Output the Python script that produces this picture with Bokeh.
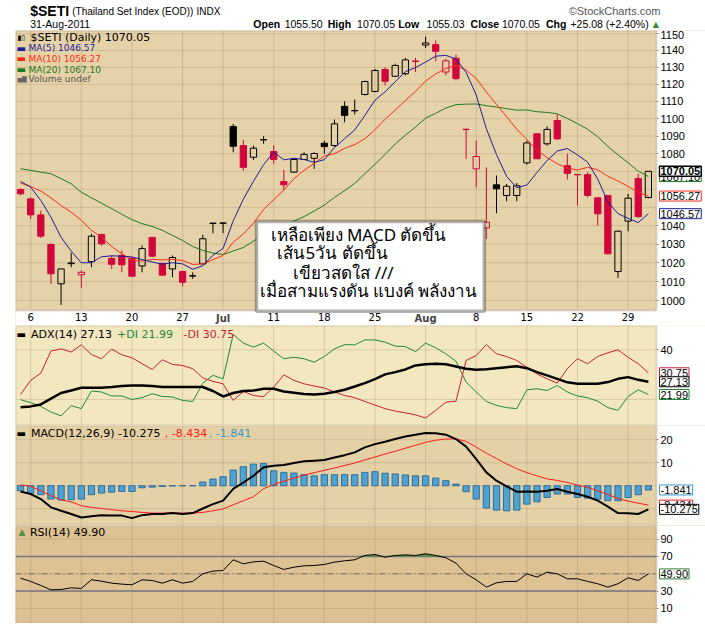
import numpy as np
from bokeh.plotting import figure
from bokeh.layouts import column
from bokeh.models import (Range1d, FixedTicker, Label, BoxAnnotation,
                          NumeralTickFormatter, ColumnDataSource)
from bokeh.embed import file_html
from bokeh.resources import INLINE

# ---------------- data ----------------
day_ticks = [2, 7, 12, 17, 21, 26, 31, 36, 41, 46, 51, 56, 61]
day_labels = ["6", "13", "20", "27", "Jul", "11", "18", "25", "Aug", "8", "15", "22", "29"]

prev_close = 1062.0
opens = [1059.9, 1054.7, 1045.9, 1029.8, 1008.8, 1019.5, 1013.6, 1020.6, 1035.2, 1022.3,
         1023.9, 1022.4, 1018.3, 1033.6, 1019.7, 1016.7, 1015.3, 1012.9, 1019.4, 1041.2,
         1041.3, 1095.5, 1084.6, 1078.0, 1087.8, 1081.2, 1064.3, 1069.6, 1076.7, 1077.4,
         1085.9, 1084.6, 1107.1, 1104.5, 1114.0, 1115.8, 1128.7, 1124.7, 1126.2, 1133.7,
         1143.3, 1143.5, 1127.2, 1135.4, 1093.9, 1071.4, 1038.8, 1062.5, 1056.6, 1056.6,
         1074.8, 1091.3, 1085.6, 1098.9, 1073.2, 1068.3, 1068.2, 1055.3, 1056.6, 1015.3,
         1042.5, 1066.0, 1055.50]
highs = [1060.5, 1055.6, 1048.3, 1030.5, 1016.9, 1025.3, 1015.8, 1035.6, 1035.6, 1023.9,
         1026.6, 1023.0, 1029.2, 1034.0, 1020.0, 1023.9, 1015.8, 1014.9, 1035.0, 1041.6,
         1041.7, 1097.0, 1087.8, 1084.6, 1089.9, 1084.6, 1070.9, 1077.0, 1080.8, 1080.8,
         1087.4, 1099.5, 1110.0, 1111.1, 1122.2, 1129.1, 1130.1, 1132.2, 1135.6, 1135.6,
         1148.3, 1146.0, 1135.0, 1137.6, 1094.3, 1087.4, 1072.3, 1067.7, 1063.0, 1063.5,
         1087.4, 1091.5, 1095.5, 1102.5, 1079.9, 1068.6, 1069.5, 1055.6, 1056.8, 1037.3,
         1057.5, 1068.6, 1070.05]
lows = [1056.8, 1043.7, 1033.4, 1008.8, 997.7, 1017.6, 1006.7, 1017.6, 1029.2, 1016.7,
        1014.9, 1012.5, 1014.9, 1023.0, 1013.0, 1012.3, 1007.5, 1011.4, 1019.2, 1035.9,
        1036.0, 1080.8, 1070.5, 1076.5, 1085.6, 1074.4, 1059.7, 1069.3, 1076.5, 1071.4,
        1079.9, 1084.0, 1097.9, 1102.5, 1113.4, 1115.2, 1119.3, 1124.3, 1125.2, 1127.2,
        1141.5, 1133.6, 1125.2, 1122.2, 1077.1, 1061.2, 1032.8, 1046.8, 1053.4, 1053.4,
        1073.8, 1077.0, 1084.6, 1087.8, 1065.5, 1051.0, 1055.6, 1040.1, 1024.5, 1011.9,
        1037.0, 1044.4, 1055.03]
closes = [1057.5, 1045.9, 1034.3, 1014.1, 1016.7, 1019.9, 1014.9, 1034.3, 1030.2, 1019.2,
          1018.9, 1012.8, 1027.6, 1023.5, 1013.4, 1022.8, 1009.6, 1013.1, 1032.9, 1041.4,
          1041.5, 1084.2, 1072.3, 1083.1, 1088.0, 1076.7, 1062.5, 1076.7, 1079.6, 1080.1,
          1084.0, 1097.0, 1101.9, 1104.7, 1121.6, 1128.1, 1121.8, 1131.1, 1134.4, 1133.5,
          1144.5, 1139.5, 1133.8, 1123.3, 1093.7, 1078.4, 1041.9, 1060.3, 1061.7, 1062.0,
          1086.1, 1077.1, 1093.8, 1088.4, 1068.9, 1068.1, 1056.6, 1046.5, 1024.8, 1037.0,
          1055.1, 1044.97, 1070.05]

ma5 = [1064.4, 1061.2, 1053.8, 1044.7, 1033.7, 1026.2, 1020.0, 1020.0, 1023.2, 1023.7,
       1023.5, 1023.1, 1021.7, 1020.4, 1019.2, 1020.0, 1019.4, 1016.5, 1018.4, 1024.0,
       1027.7, 1042.6, 1054.5, 1064.5, 1073.8, 1080.9, 1076.5, 1077.4, 1076.7, 1075.1,
       1076.6, 1083.5, 1088.5, 1093.5, 1101.8, 1110.7, 1115.6, 1121.5, 1127.4, 1129.8,
       1133.1, 1136.6, 1137.1, 1134.9, 1127.0, 1113.7, 1094.2, 1079.5, 1067.2, 1060.9,
       1062.4, 1069.4, 1076.1, 1081.5, 1082.9, 1079.3, 1075.2, 1065.7, 1053.0, 1046.6,
       1044.0, 1041.7, 1046.57]
ma10 = [1063.5, 1061.6, 1059.0, 1055.3, 1051.1, 1047.4, 1042.9, 1037.5, 1033.8, 1028.7,
        1024.8, 1021.5, 1020.9, 1021.8, 1021.5, 1021.8, 1021.2, 1019.1, 1019.4, 1021.6,
        1023.9, 1031.0, 1035.5, 1041.4, 1048.9, 1054.3, 1059.6, 1065.9, 1070.6, 1074.5,
        1078.7, 1080.0, 1083.0, 1085.1, 1088.5, 1093.6, 1099.6, 1105.0, 1110.5, 1115.8,
        1121.9, 1126.1, 1129.3, 1131.2, 1128.4, 1123.4, 1115.4, 1108.3, 1101.1, 1093.9,
        1088.1, 1081.8, 1077.8, 1074.3, 1071.9, 1070.8, 1072.3, 1070.9, 1067.2, 1064.7,
        1061.6, 1058.4, 1056.27]
ma20 = [1071.5, 1070.6, 1069.6, 1068.7, 1065.9, 1063.1, 1058.4, 1055.3, 1052.3, 1049.3,
        1046.2, 1043.3, 1041.1, 1039.6, 1037.5, 1034.7, 1032.0, 1028.7, 1026.6, 1025.2,
        1024.4, 1026.3, 1028.2, 1031.6, 1035.2, 1038.0, 1040.4, 1042.5, 1045.0, 1048.0,
        1051.3, 1055.5, 1059.2, 1063.3, 1068.7, 1074.0, 1079.6, 1085.5, 1090.5, 1095.1,
        1100.3, 1103.1, 1106.1, 1108.1, 1108.4, 1108.5, 1107.5, 1106.7, 1105.8, 1104.9,
        1105.0, 1104.0, 1103.6, 1102.8, 1100.1, 1097.1, 1093.9, 1089.6, 1084.1, 1079.3,
        1074.9, 1070.1, 1067.10]

adx = [16.9, 17.2, 18.0, 20.3, 22.6, 23.6, 24.7, 24.7, 24.7, 25.0,
       25.4, 25.6, 25.6, 25.4, 25.0, 25.0, 25.0, 25.0, 25.0, 23.4,
       21.2, 22.6, 23.4, 23.6, 24.3, 24.3, 23.2, 22.7, 22.2, 22.0,
       22.3, 23.0, 23.9, 25.2, 26.6, 28.2, 30.1, 31.0, 32.1, 33.7,
       34.2, 34.4, 34.2, 33.3, 32.4, 32.0, 32.2, 32.6, 33.0, 33.4,
       32.6, 31.0, 29.7, 28.3, 26.9, 26.3, 26.3, 26.3, 27.0, 28.3,
       29.0, 27.9, 27.13]
plus_di = [19.9, 18.7, 17.2, 14.9, 13.4, 17.5, 16.3, 23.4, 23.0, 21.4,
           21.4, 20.0, 20.7, 22.3, 21.2, 21.0, 19.6, 19.2, 26.6, 29.7,
           28.3, 46.2, 42.7, 41.1, 42.7, 39.5, 36.4, 37.0, 36.4, 35.0,
           37.3, 40.4, 42.1, 42.0, 44.0, 44.0, 43.1, 41.5, 41.3, 39.3,
           42.7, 40.8, 38.4, 35.4, 27.0, 23.0, 19.2, 17.6, 16.7, 16.3,
           23.9, 24.3, 23.6, 25.6, 23.0, 21.4, 20.7, 19.3, 16.7, 15.6,
           21.2, 23.9, 21.99]
minus_di = [22.0, 27.7, 30.6, 39.5, 40.4, 39.1, 42.0, 38.1, 36.4, 40.3,
            38.0, 36.8, 34.4, 32.1, 36.0, 34.1, 33.7, 32.4, 28.7, 27.3,
            26.3, 19.6, 23.2, 21.6, 21.1, 25.0, 29.9, 27.7, 26.3, 25.4,
            24.6, 23.0, 21.6, 20.7, 19.2, 17.7, 16.3, 15.3, 14.6, 13.8,
            12.5, 15.6, 18.9, 19.3, 35.7, 37.7, 42.1, 38.4, 37.3, 35.7,
            33.0, 30.3, 28.3, 26.6, 32.4, 36.4, 34.4, 37.3, 38.8, 40.0,
            37.0, 34.4, 30.75]

macd = [-2.5, -3.6, -5.8, -9.4, -10.9, -12.3, -13.8, -13.3, -12.8, -13.0,
        -13.0, -14.1, -12.8, -12.3, -12.3, -11.9, -12.3, -11.9, -9.9, -8.0,
        -6.5, -1.4, 1.4, 4.3, 8.0, 8.7, 9.0, 9.9, 10.6, 10.9,
        11.2, 12.3, 13.3, 14.5, 16.7, 18.1, 19.1, 20.3, 21.4, 22.2,
        22.9, 22.8, 22.2, 20.3, 17.0, 11.6, 5.8, 2.2, -0.3, -2.6,
        -2.5, -2.6, -2.2, -1.4, -2.6, -3.6, -4.8, -6.5, -9.1, -11.9,
        -12.0, -12.3, -10.275]
signal = [0.4, -0.3, -2.2, -4.3, -6.2, -7.0, -8.7, -9.4, -9.9, -10.4,
          -10.9, -11.2, -11.6, -11.9, -11.9, -11.9, -11.9, -11.9, -11.6, -10.9,
          -10.1, -8.3, -6.5, -4.8, -1.3, 0.5, 2.0, 3.3, 4.6, 5.7,
          6.7, 7.7, 8.8, 9.9, 11.2, 12.5, 13.8, 15.0, 16.3, 17.6,
          18.9, 19.8, 20.3, 20.4, 19.3, 16.8, 14.2, 11.8, 9.5, 7.4,
          5.7, 4.3, 3.0, 2.3, 1.4, 0.3, -0.7, -2.2, -3.8, -5.6,
          -6.7, -7.6, -8.434]
hist = [-2.2, -3.2, -3.9, -5.8, -6.2, -6.1, -5.8, -3.9, -3.2, -2.8,
        -2.5, -2.5, -0.9, -0.6, -0.3, -0.1, 0.0, 0.0, 1.6, 2.9,
        3.9, 6.8, 8.3, 9.4, 9.7, 6.5, 5.8, 5.5, 4.8, 4.3,
        4.8, 4.8, 4.8, 4.8, 5.8, 6.1, 5.4, 5.1, 4.7, 4.3,
        4.3, 3.3, 2.2, 0.7, -2.6, -5.8, -9.7, -10.6, -10.9, -10.6,
        -8.0, -7.0, -5.1, -3.6, -3.6, -5.1, -5.4, -5.8, -6.5, -6.5,
        -5.1, -3.9, -1.841]

rsi = [45.0, 41.2, 36.5, 31.5, 31.9, 33.8, 33.1, 43.1, 41.5, 39.2,
       38.1, 37.3, 43.1, 42.3, 39.2, 43.1, 39.2, 41.2, 50.0, 53.1,
       53.8, 66.2, 61.5, 63.8, 64.6, 59.6, 55.0, 57.7, 59.2, 59.6,
       60.8, 63.5, 65.0, 66.2, 71.2, 72.3, 69.2, 71.2, 71.9, 71.2,
       73.1, 71.2, 68.5, 62.3, 50.0, 43.1, 34.6, 39.6, 41.2, 41.2,
       50.0, 46.2, 51.9, 50.0, 44.2, 44.2, 41.2, 38.5, 34.6, 38.5,
       45.4, 42.3, 49.90]

price_ticks = list(range(1000, 1151, 10))
price_labels = [t for t in price_ticks if t not in (1050, 1060, 1070)]
adx_ticks = [20, 40]
adx_labels = [40]
macd_ticks = [-10, 0, 10, 20]
macd_labels = [10, 20]
rsi_ticks = [10, 30, 50, 70, 90]
rsi_labels = [10, 30, 70, 90]
rsi_levels = [30, 70]
rsi_mid = [50]

# ---------------- styling constants ----------------
UI = "DejaVu Sans"
AX = "Liberation Sans"
W = 705
FRAME_L = 15            # page x of the chart's left edge
PX_PER_DAY = 10.126
CHART_END = 63.8        # x (day index) of the chart's right edge
RED = "#d0063c"
MA5_C, MA10_C, MA20_C = "#1d1d9b", "#ff2a1a", "#1e7a1e"
DI_P, DI_M = "#1f8a3a", "#c81e3c"
HIST_F, HIST_L = "#4fa2d0", "#2b6fa3"
BORDER = "#9d8b76"
GRID = "#7d6545"
HAS_PAD = "padding" in Label.properties()

xr = Range1d(0.5, 0.5 + (W - FRAME_L) / PX_PER_DAY)
idx = np.arange(1, len(closes) + 1)


def panel(height, yr, bg, ticks, label_ticks, chart_bottom, y_type="linear"):
    p = figure(width=W, height=height, x_range=xr, y_range=yr, y_axis_type=y_type,
               y_axis_location="right", x_axis_location="below",
               toolbar_location=None, output_backend="svg",
               min_border_left=FRAME_L, min_border_right=0, min_border_top=0,
               min_border_bottom=0,
               background_fill_color=bg, border_fill_color="white",
               outline_line_color=None)
    p.grid.visible = False
    # grid lines limited to the chart area
    p.segment(x0=day_ticks, y0=[chart_bottom] * len(day_ticks), x1=day_ticks,
              y1=[yr.end] * len(day_ticks), line_color=GRID, line_alpha=0.22, line_width=1)
    p.segment(x0=[xr.start] * len(ticks), y0=ticks, x1=[CHART_END] * len(ticks), y1=ticks,
              line_color=GRID, line_alpha=0.2, line_width=1)
    # white margins outside the chart area (axis side and, for the price panel, below)
    p.add_layout(BoxAnnotation(left=CHART_END, right=xr.end, bottom=yr.start, top=yr.end,
                               fill_color="white", fill_alpha=1.0, line_color=None))
    if chart_bottom > yr.start:
        p.add_layout(BoxAnnotation(left=xr.start, right=xr.end, bottom=yr.start,
                                   top=chart_bottom, fill_color="white", fill_alpha=1.0,
                                   line_color=None))
    ya = p.yaxis[0]
    ya.level = "overlay"
    ya.fixed_location = CHART_END
    ya.ticker = FixedTicker(ticks=label_ticks)
    ya.formatter = NumeralTickFormatter(format="0")
    ya.axis_line_color = None
    ya.major_tick_line_color = BORDER
    ya.major_tick_out = 2
    ya.major_tick_in = 0
    ya.minor_tick_line_color = None
    ya.major_label_standoff = 2
    ya.major_label_text_font = AX
    ya.major_label_text_font_size = "11px"
    ya.major_label_text_color = "black"
    xa = p.xaxis[0]
    xa.level = "overlay"
    xa.fixed_location = chart_bottom
    xa.ticker = FixedTicker(ticks=day_ticks)
    xa.axis_line_color = None
    xa.major_tick_line_color = None
    xa.minor_tick_line_color = None
    xa.major_tick_out = 0
    xa.major_tick_in = 0
    xa.major_label_standoff = 3
    xa.major_label_text_font = UI
    xa.major_label_text_font_size = "10px"
    xa.major_label_text_color = "black"
    return p


def border(p, yr, chart_bottom):
    p.add_layout(BoxAnnotation(left=xr.start, right=CHART_END, bottom=chart_bottom, top=yr.end,
                               fill_alpha=0.0, line_color=BORDER, line_width=2))


def put(p, yr, top_abs, ax, ay, text, color="black", size="11px", font=UI,
        bold=False, align="left"):
    p.add_layout(Label(x=xr.start, y=yr.end, x_offset=ax - FRAME_L,
                       y_offset=-(ay - top_abs), text=text, text_color=color,
                       text_font_size=size, text_font=font,
                       text_font_style="bold" if bold else "normal",
                       text_align=align, text_baseline="middle"))


def vbox(p, val, text, col, bold=False, lw=1.0):
    kw = dict(x=CHART_END, y=val, x_offset=3, text=text, text_align="left",
              text_baseline="middle", text_font=AX, text_font_size="11px",
              text_font_style="bold" if bold else "normal", text_color="black",
              background_fill_color="white", background_fill_alpha=1.0,
              border_line_color=col, border_line_width=lw)
    if HAS_PAD:
        kw["padding"] = 1
    p.add_layout(Label(**kw))


# ---------------- header ----------------
hdr = figure(width=W, height=30, x_range=Range1d(0, W), y_range=Range1d(30, 0),
             toolbar_location=None, output_backend="svg", x_axis_location=None,
             y_axis_location=None, min_border_left=0, min_border_right=0,
             min_border_top=0, min_border_bottom=0, outline_line_color=None,
             background_fill_color="white", border_fill_color="white")
hdr.grid.visible = False


def hl(x, y, text, size="11px", bold=False, color="black", align="left", font=AX):
    hdr.add_layout(Label(x=x, y=y, text=text, text_font=font, text_font_size=size,
                         text_font_style="bold" if bold else "normal",
                         text_color=color, text_align=align, text_baseline="middle"))


hl(15, 10.5, "$SETI", size="14px", bold=True)
hl(58, 11, "(Thailand Set Index (EOD))", size="10px")
hl(185, 11, "INDX", size="10px")
hl(659, 10.5, "©StockCharts.com", size="11px", color="#555555", align="right")
hl(15, 23.5, "31-Aug-2011", size="10.5px")
row2 = [(243, "Open", True), (275, "1055.50", False), (319, "High", True),
        (349, "1070.05", False), (391, "Low", True), (420, "1055.03", False),
        (465, "Close", True), (497, "1070.05", False), (542, "Chg", True),
        (567, "+25.08 (+2.40%)", False)]
for x0, t, b in row2:
    hl(x0, 23.5, t, size="10.5px", bold=b)
hl(651, 23.5, "▲", size="8px", color="#2e8b2e", font=UI)

# ---------------- price panel ----------------
P_BOTTOM = 994.8
yr_p = Range1d(987.0, 1152.0)
main = panel(295, yr_p, "#e6d2a8", price_ticks, price_labels, P_BOTTOM, y_type="log")
main.xaxis[0].major_label_overrides = {t: ("" if l in ("Jul", "Aug") else l)
                                       for t, l in zip(day_ticks, day_labels)}

o = np.array(opens); c = np.array(closes); h = np.array(highs); l = np.array(lows)
pc = np.concatenate([[prev_close], c[:-1]])
cols = np.where(c < pc, RED, "black")
alph = np.where(c >= o, 0.0, 1.0)
btop = np.maximum(o, c)
bbot = np.minimum(o, c)
src = ColumnDataSource(dict(x=idx, h=h, l=l, bt=btop, bb=bbot, col=cols, a=alph))
main.segment(x0="x", y0="h", x1="x", y1="bt", color="col", line_width=1, source=src)
main.segment(x0="x", y0="bb", x1="x", y1="l", color="col", line_width=1, source=src)
main.vbar(x="x", width=0.62, top="bt", bottom="bb", fill_color="col", fill_alpha="a",
          line_color="col", line_width=1, source=src)
main.line(idx, ma20, color=MA20_C, line_width=1)
main.line(idx, ma10, color=MA10_C, line_width=1)
main.line(idx, ma5, color=MA5_C, line_width=1)
border(main, yr_p, P_BOTTOM)

# bold month names under the axis
for t, lab in zip(day_ticks, day_labels):
    if lab in ("Jul", "Aug"):
        main.add_layout(Label(x=t, y=P_BOTTOM, y_offset=-8.5, text=lab, text_font=UI,
                              text_font_size="10px", text_font_style="bold",
                              text_align="center", text_baseline="middle"))

# annotation box with Thai note
main.add_layout(BoxAnnotation(left=24.3, right=46.8, top=1042.3, bottom=994.4,
                              fill_color="white", fill_alpha=1.0, line_color="black",
                              line_width=3.5))
put(main, yr_p, 30, 358, 233.5, "เหลือเพียง MACD ตัดขึ้น", size="17px", font="Noto Sans", align="center")
put(main, yr_p, 30, 332, 252, "เส้น5วัน ตัดขึ้น", size="17px", font="Noto Sans", align="center")
put(main, yr_p, 30, 343, 271.5, "เขียวสดใส ///", size="17px", font="Noto Sans", align="center")
put(main, yr_p, 30, 368, 290, "เมื่อสามแรงดัน แบงค์ พลังงาน", size="17px", font="Noto Sans", align="center")

# legend
put(main, yr_p, 30, 17, 37, "▮▯", size="7px")
put(main, yr_p, 30, 30, 37, "$SETI (Daily) 1070.05", size="11px")
put(main, yr_p, 30, 16, 47.7, "▬", color=MA5_C, size="10px")
put(main, yr_p, 30, 28, 47.7, "MA(5) 1046.57", color=MA5_C, size="9px")
put(main, yr_p, 30, 16, 58.3, "▬", color=MA10_C, size="10px")
put(main, yr_p, 30, 28, 58.3, "MA(10) 1056.27", color=MA10_C, size="9px")
put(main, yr_p, 30, 16, 69, "▬", color=MA20_C, size="10px")
put(main, yr_p, 30, 28, 69, "MA(20) 1067.10", color=MA20_C, size="9px")
put(main, yr_p, 30, 17, 78.3, "▅▇", color="#666666", size="6px")
put(main, yr_p, 30, 28, 78.3, "Volume undef", color="#555555", size="9px")

vbox(main, ma20[-1], "1067.10", MA20_C)
vbox(main, ma10[-1], "1056.27", MA10_C)
vbox(main, ma5[-1], "1046.57", MA5_C)
vbox(main, closes[-1], "1070.05", "black", bold=True, lw=1.5)


def lower_panel(height, yr, bg, ticks, label_ticks):
    p = panel(height, yr, bg, ticks, label_ticks, yr.start)
    p.xaxis[0].visible = False
    return p


# ---------------- ADX panel ----------------
yr_a = Range1d(9.5, 49.8)
pa = lower_panel(100, yr_a, "#f3e7bf", adx_ticks, adx_labels)
pa.line(idx, plus_di, color=DI_P, line_width=1)
pa.line(idx, minus_di, color=DI_M, line_width=1)
pa.line(idx, adx, color="black", line_width=2.5)
border(pa, yr_a, yr_a.start)
put(pa, yr_a, 325, 16, 334, "▬", size="10px")
put(pa, yr_a, 325, 30.5, 334, "ADX(14) 27.13")
put(pa, yr_a, 325, 116.5, 334, "+DI 21.99", color=DI_P)
put(pa, yr_a, 325, 183, 334, "-DI 30.75", color=DI_M)
vbox(pa, minus_di[-1], "30.75", DI_M)
vbox(pa, plus_di[-1], "21.99", DI_P)
vbox(pa, adx[-1], "27.13", "black")

# ---------------- MACD panel ----------------
yr_m = Range1d(-17.3, 26.2)
pm = lower_panel(100, yr_m, "#e5d1a6", macd_ticks, macd_labels)
pm.vbar(x=idx, top=hist, bottom=0, width=0.62, fill_color=HIST_F, line_color=HIST_L,
        line_width=1)
pm.line(idx, signal, color="#ff1a1a", line_width=1)
pm.line(idx, macd, color="black", line_width=2)
border(pm, yr_m, yr_m.start)
put(pm, yr_m, 425, 16, 432.7, "▬", size="10px")
put(pm, yr_m, 425, 30.5, 432.7, "MACD(12,26,9) -10.275")
put(pm, yr_m, 425, 164.3, 432.7, ", -8.434", color="#ff1a1a")
put(pm, yr_m, 425, 208.3, 432.7, ", -1.841", color="#3399cc")
vbox(pm, signal[-1], "-8.434", "#ff1a1a")
vbox(pm, hist[-1], "-1.841", "#3399cc")
vbox(pm, macd[-1], "-10.275", "black")

# ---------------- RSI panel ----------------
yr_r = Range1d(-7.4, 105.8)
pr = lower_panel(98, yr_r, "#dec294", rsi_ticks, rsi_labels)
pr.segment(x0=[xr.start] * 2, y0=rsi_levels, x1=[CHART_END] * 2, y1=rsi_levels,
           line_color="#76767e", line_width=1.5)
pr.segment(x0=[xr.start], y0=rsi_mid, x1=[CHART_END], y1=rsi_mid,
           line_color="#6f6f6f", line_width=1, line_dash="6 3 1 3")
rsi_arr = np.array(rsi)
pr.varea(x=idx, y1=70, y2=np.maximum(rsi_arr, 70), fill_color="#4f8f3f", fill_alpha=0.9)
pr.line(idx, rsi, color="black", line_width=1)
border(pr, yr_r, yr_r.start)
put(pr, yr_r, 525, 18, 531.7, "▲", color="#4f8f3f", size="9px")
put(pr, yr_r, 525, 29.4, 531.7, "RSI(14) 49.90")
vbox(pr, rsi[-1], "49.90", "#2e7d32")

layout = column(hdr, main, pa, pm, pr, spacing=0)
open("out.html", "w").write(file_html(layout, INLINE))
